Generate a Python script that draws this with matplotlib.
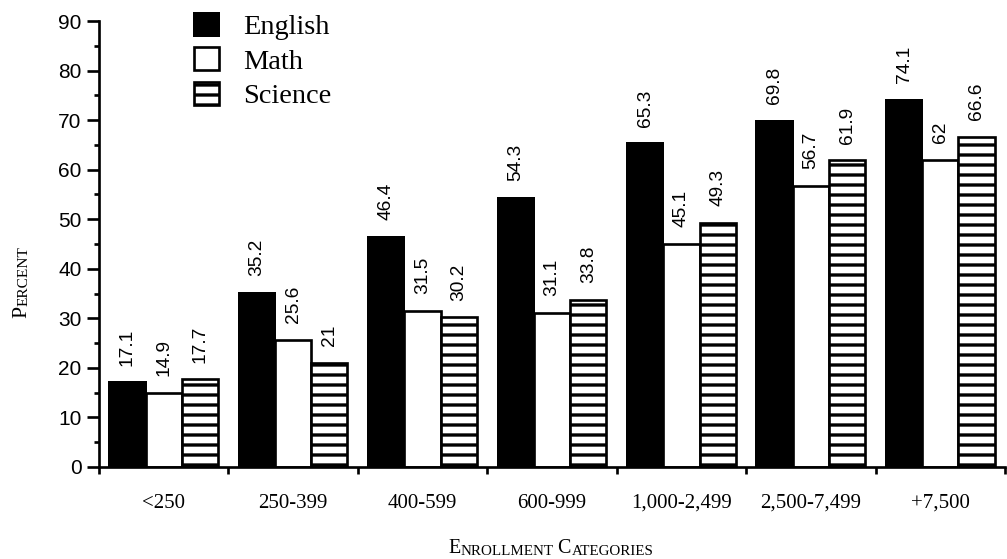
import numpy as np
import matplotlib
matplotlib.use("Agg")
import matplotlib.pyplot as plt

categories = ["<250", "250-399", "400-599", "600-999",
              "1,000-2,499", "2,500-7,499", "+7,500"]
english = [17.1, 35.2, 46.4, 54.3, 65.3, 69.8, 74.1]
math = [14.9, 25.6, 31.5, 31.1, 45.1, 56.7, 62]
science = [17.7, 21, 30.2, 33.8, 49.3, 61.9, 66.6]

SANS = "Liberation Sans"
SERIF = "Liberation Serif"

plt.rcParams["hatch.linewidth"] = 2.0
plt.rcParams["hatch.color"] = "black"

fig = plt.figure(figsize=(1007 / 120, 559 / 120), dpi=120)
ax = fig.add_axes([0.0983, 0.1646, 0.8997, 0.7978])

x = np.arange(len(categories))
w = 0.28

b1 = ax.bar(x - w, english, w, color="black", edgecolor="black", lw=1.2, label="English")
b2 = ax.bar(x, math, w, color="white", edgecolor="black", lw=1.6, label="Math")
b3 = ax.bar(x + w, science, w, color="white", edgecolor="black", lw=1.6,
            hatch="--", label="Science")

# rotated value labels above each bar
for bars, vals in ((b1, english), (b2, math), (b3, science)):
    for rect, v in zip(bars, vals):
        ax.annotate(f"{v:g}", (rect.get_x() + rect.get_width() / 2, v),
                    xytext=(0, 10), textcoords="offset points",
                    rotation=90, ha="center", va="bottom",
                    fontsize=11.5, family=SANS)

ax.set_xlim(-0.5, len(categories) - 0.5)
ax.set_ylim(0, 90)

ax.spines["top"].set_visible(False)
ax.spines["right"].set_visible(False)
ax.spines["left"].set_linewidth(1.6)
ax.spines["bottom"].set_linewidth(1.6)

ax.set_yticks(np.arange(0, 91, 10))
ax.set_yticks(np.arange(5, 90, 10), minor=True)
ax.tick_params(axis="y", which="major", length=7, width=1.6, labelsize=12.5, pad=3.5)
ax.tick_params(axis="y", which="minor", length=3, width=1.6)
for lbl in ax.get_yticklabels():
    lbl.set_family(SANS)

ax.set_xticks(x)
ax.set_xticklabels(categories, family=SERIF, fontsize=12.5)
ax.set_xticks(np.arange(-0.5, len(categories), 1), minor=True)
ax.tick_params(axis="x", which="major", length=0, pad=16)
ax.tick_params(axis="x", which="minor", length=4, width=1.6)

leg = ax.legend(loc="upper left", bbox_to_anchor=(0.089, 1.05), frameon=False,
                prop={"family": SERIF, "size": 17}, borderpad=0,
                handlelength=0.88, handleheight=0.88, handletextpad=0.85,
                labelspacing=0.25)


def small_caps(x0, y0, parts, big, small, rotation=0):
    # alternating capital / reduced-size pieces, each placed after the last
    if rotation:
        kw = dict(rotation=90, ha="right", va="bottom")
        anchor = (1, 1)
    else:
        kw = dict(ha="left", va="bottom")
        anchor = (1, 0)
    prev = fig.text(x0, y0, parts[0], fontsize=big, family=SERIF, **kw)
    for i, p in enumerate(parts[1:], start=1):
        size = small if i % 2 == 1 else big
        prev = ax.annotate(p, xy=anchor, xycoords=prev, fontsize=size,
                           family=SERIF, annotation_clip=False, **kw)
    return prev


small_caps(31 / 1007, 1 - 318 / 559, ["P", "ERCENT"], 13, 9.2, rotation=90)
small_caps(448 / 1007, 1 - 558 / 559, ["E", "NROLLMENT", " C", "ATEGORIES"], 12, 9)

fig.savefig("out.png", dpi=120)
